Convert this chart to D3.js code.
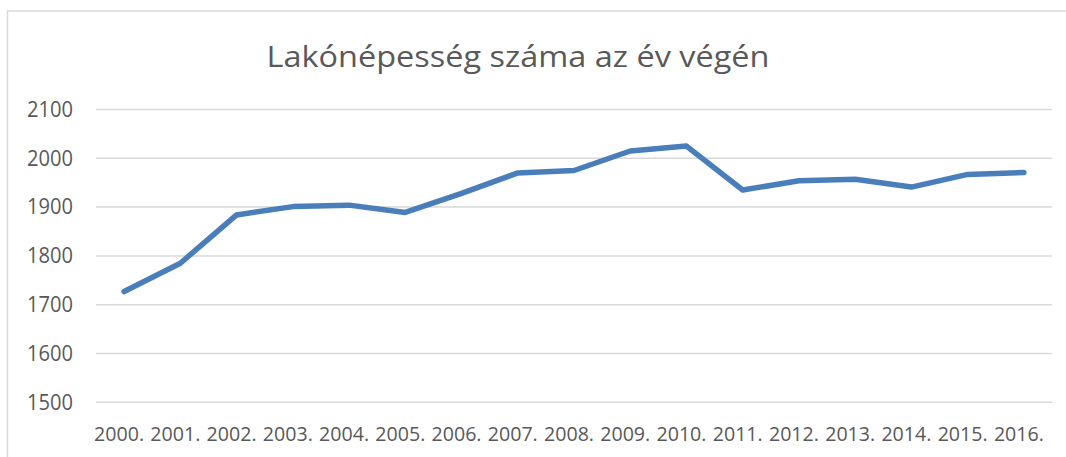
<!DOCTYPE html>
<html>
<head>
<meta charset="utf-8">
<script src="https://cdn.jsdelivr.net/npm/d3@7/dist/d3.min.js"></script>
<style>
  html, body { margin: 0; padding: 0; background: #fff; }
  svg { display: block; }
  text { font-family: "Open Sans", "Liberation Sans", sans-serif; fill: #595959; }
</style>
</head>
<body>
<svg id="chart" width="1066" height="457"></svg>
<script>
const title = "Lakónépesség száma az év végén";
const years = ["2000.", "2001.", "2002.", "2003.", "2004.", "2005.", "2006.", "2007.", "2008.",
               "2009.", "2010.", "2011.", "2012.", "2013.", "2014.", "2015.", "2016."];
const population = [1727, 1785, 1884, 1901, 1904, 1889, 1928, 1970, 1975,
                    2015, 2025, 1935, 1954, 1957, 1941, 1967, 1971];
const yTicks = [1500, 1600, 1700, 1800, 1900, 2000, 2100];

const svg = d3.select("#chart");
const W = 1066, H = 457;
const plot = { left: 96, right: 1052, top: 109.5, bottom: 402.3 };

// outer chart border (cropped at right/bottom)
svg.append("path")
  .attr("d", `M7.5,${H + 2} L7.5,11 L${W + 2},11`)
  .attr("fill", "none").attr("stroke", "#d9d9d9").attr("stroke-width", 1.5);

const x = d3.scaleBand().domain(years).range([plot.left, plot.right]).padding(0);
const y = d3.scaleLinear().domain([1500, 2100]).range([plot.bottom, plot.top]);

// gridlines
svg.append("g").selectAll("line").data(yTicks).join("line")
  .attr("x1", plot.left).attr("x2", plot.right)
  .attr("y1", d => y(d)).attr("y2", d => y(d))
  .attr("stroke", "#d9d9d9").attr("stroke-width", 1.5);

// y axis labels
const yAxis = d3.axisLeft(y).tickValues(yTicks).tickSize(0).tickPadding(0).tickFormat(d3.format("d"));
const gy = svg.append("g").attr("transform", "translate(73,0)").call(yAxis);
gy.select(".domain").remove();
gy.selectAll("text")
  .attr("font-size", 21).attr("fill", "#595959")
  .attr("font-family", "Open Sans, Liberation Sans, sans-serif")
  .attr("textLength", 46).attr("lengthAdjust", "spacingAndGlyphs");

// x axis labels
const xAxis = d3.axisBottom(x).tickSize(0).tickPadding(0);
const gx = svg.append("g").attr("transform", "translate(-5,426)").call(xAxis);
gx.select(".domain").remove();
gx.selectAll("text")
  .attr("font-size", 20.5).attr("fill", "#595959")
  .attr("font-family", "Open Sans, Liberation Sans, sans-serif")
  .attr("dy", "0.71em")
  .attr("textLength", 50).attr("lengthAdjust", "spacingAndGlyphs");

// line
const line = d3.line()
  .x((d, i) => x(years[i]) + x.bandwidth() / 2)
  .y(d => y(d));
svg.append("path")
  .datum(population)
  .attr("d", line)
  .attr("fill", "none")
  .attr("stroke", "#4a7ebb")
  .attr("stroke-width", 5.5)
  .attr("stroke-linecap", "round")
  .attr("stroke-linejoin", "round");

// title
svg.append("text")
  .attr("x", 518).attr("y", 67)
  .attr("text-anchor", "middle")
  .attr("font-size", 30)
  .attr("fill", "#595959")
  .attr("textLength", 503).attr("lengthAdjust", "spacingAndGlyphs")
  .text(title);
</script>
</body>
</html>
